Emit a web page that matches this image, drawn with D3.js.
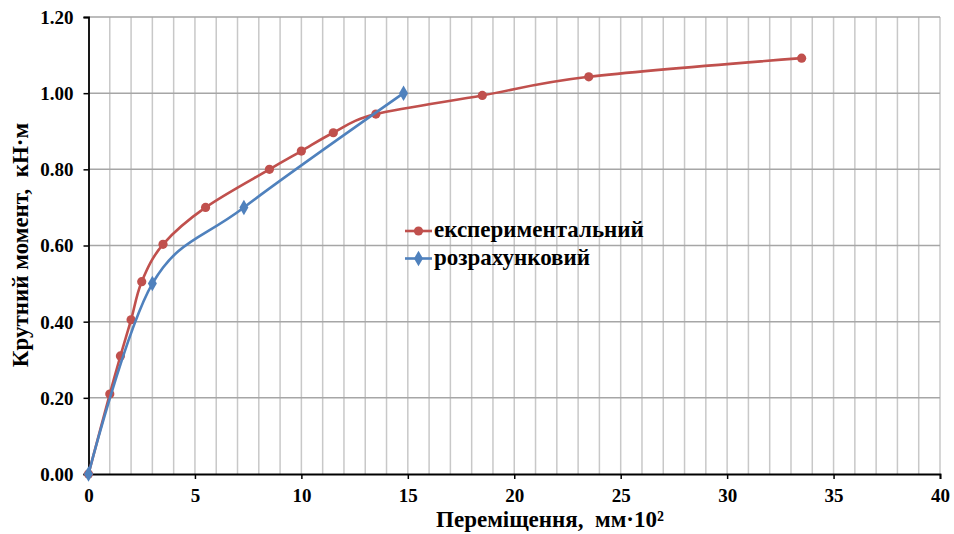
<!DOCTYPE html>
<html>
<head>
<meta charset="utf-8">
<script src="https://cdn.jsdelivr.net/npm/d3@7"></script>
<style>
  body { margin: 0; background: #fff; }
</style>
</head>
<body>
<svg id="chart"></svg>
<script>
const expX = [0, 1, 1.5, 2, 2.5, 3.5, 5.5, 8.5, 10, 11.5, 13.5, 18.5, 23.5, 33.5];
const expY = [0, 0.21, 0.31, 0.405, 0.505, 0.603, 0.70, 0.80, 0.848, 0.896, 0.945, 0.994, 1.043, 1.092];
const calcX = [0, 3, 7.3, 14.8];
const calcY = [0, 0.50, 0.70, 1.00];
const xTicks = [0, 5, 10, 15, 20, 25, 30, 35, 40];
const yTicks = [0, 0.2, 0.4, 0.6, 0.8, 1.0, 1.2];
const seriesNames = ["експериментальний", "розрахунковий"];

(() => {
  const width = 954;
  const height = 534;
  const margin = { top: 17, right: 14, bottom: 60, left: 88.5 };
  const innerWidth = width - margin.left - margin.right;
  const innerHeight = height - margin.top - margin.bottom;

  const red = "#c0504d";
  const blue = "#4f81bd";
  const font = "Liberation Serif, Times New Roman, DejaVu Serif, serif";

  const svg = d3.select("#chart")
    .attr("width", width)
    .attr("height", height)
    .attr("font-family", font)
    .attr("font-weight", "bold");
  const g = svg.append("g").attr("transform", `translate(${margin.left},${margin.top})`);

  const x = d3.scaleLinear().domain([0, 40]).range([0, innerWidth]);
  const y = d3.scaleLinear().domain([0, 1.2]).range([innerHeight, 0]);

  // vertical grid every 1 unit
  g.append("g")
    .selectAll("line")
    .data(d3.range(1, 41))
    .join("line")
    .attr("x1", (d) => x(d))
    .attr("x2", (d) => x(d))
    .attr("y1", 0)
    .attr("y2", innerHeight)
    .attr("stroke", "#c8c8c8")
    .attr("stroke-width", 1.5);

  // horizontal grid
  g.append("g")
    .selectAll("line")
    .data(yTicks.slice(1))
    .join("line")
    .attr("x1", 0)
    .attr("x2", innerWidth)
    .attr("y1", (d) => y(d))
    .attr("y2", (d) => y(d))
    .attr("stroke", "#a6a6a6")
    .attr("stroke-width", 1.5);

  const xAxis = g.append("g")
    .attr("transform", `translate(0,${innerHeight})`)
    .call(d3.axisBottom(x).tickValues(xTicks).tickSize(5).tickPadding(10).tickFormat(d3.format("d")));
  const yAxis = g.append("g")
    .call(d3.axisLeft(y).tickValues(yTicks).tickSize(5).tickPadding(10).tickFormat(d3.format(".2f")));

  [xAxis, yAxis].forEach((a) => {
    a.attr("font-family", font).attr("font-size", 19).attr("font-weight", "bold");
    a.select(".domain").attr("stroke", "#000").attr("stroke-width", 1.8);
    a.selectAll(".tick line").attr("stroke", "#000").attr("stroke-width", 1.5);
    a.selectAll(".tick text").attr("fill", "#000");
  });
  yAxis.selectAll(".tick text").attr("dy", "0.34em");

  const line = d3.line()
    .x((d) => x(d[0]))
    .y((d) => y(d[1]))
    .curve(d3.curveCardinal.tension(0));

  const expData = expX.map((v, i) => [v, expY[i]]);
  const calcData = calcX.map((v, i) => [v, calcY[i]]);

  g.append("path")
    .datum(expData)
    .attr("d", line)
    .attr("fill", "none")
    .attr("stroke", red)
    .attr("stroke-width", 2.6);

  g.selectAll("circle.exp")
    .data(expData)
    .join("circle")
    .attr("class", "exp")
    .attr("cx", (d) => x(d[0]))
    .attr("cy", (d) => y(d[1]))
    .attr("r", 4.6)
    .attr("fill", red);

  g.append("path")
    .datum(calcData)
    .attr("d", line)
    .attr("fill", "none")
    .attr("stroke", blue)
    .attr("stroke-width", 2.6);

  const diamond = d3.symbol().type(d3.symbolDiamond).size(70);
  g.selectAll("path.calc")
    .data(calcData)
    .join("path")
    .attr("class", "calc")
    .attr("d", diamond)
    .attr("transform", (d) => `translate(${x(d[0])},${y(d[1])})`)
    .attr("fill", blue);

  // legend
  const legend = svg.append("g").attr("transform", "translate(405,231)");
  const colors = [red, blue];
  seriesNames.forEach((name, i) => {
    const row = legend.append("g").attr("transform", `translate(0,${i * 27.5})`);
    row.append("line")
      .attr("x1", 0).attr("x2", 27)
      .attr("stroke", colors[i]).attr("stroke-width", 2.6);
    if (i === 0) {
      row.append("circle").attr("cx", 13.5).attr("r", 4.6).attr("fill", colors[i]);
    } else {
      row.append("path").attr("d", diamond).attr("transform", "translate(13.5,0)").attr("fill", colors[i]);
    }
    row.append("text")
      .attr("x", 29)
      .attr("y", 6)
      .attr("font-size", 23)
      .attr("fill", "#000")
      .text(name);
  });

  // axis titles
  svg.append("text")
    .attr("x", 550)
    .attr("y", 527)
    .attr("text-anchor", "middle")
    .attr("font-size", 23)
    .attr("xml:space", "preserve")
    .text("Переміщення,  мм·10²");

  svg.append("text")
    .attr("transform", "translate(28,245) rotate(-90)")
    .attr("text-anchor", "middle")
    .attr("font-size", 23)
    .attr("xml:space", "preserve")
    .text("Крутний момент,  кН·м");
})();
</script>
</body>
</html>
